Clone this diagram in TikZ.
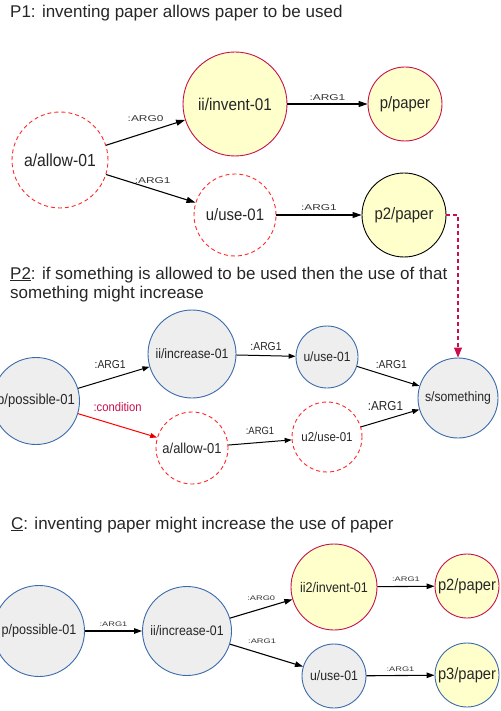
\documentclass[tikz,border=0pt]{standalone}
\usepackage{fontspec}
\setmainfont{Liberation Sans}
\newfontfamily\nodefont[FakeStretch=0.9]{Liberation Sans}
\newfontfamily\widefont[FakeStretch=1.4]{Liberation Sans}
\usetikzlibrary{arrows.meta}

\definecolor{amryellow}{HTML}{FFFFCC}
\definecolor{amrgray}{HTML}{EEEEEE}
\definecolor{amrblue}{HTML}{3A6BAA}
\definecolor{amrdash}{HTML}{FF2A2A}
\definecolor{amrred}{HTML}{C8104E}

\newcommand{\fsz}[1]{\fontsize{#1}{#1}\selectfont}

\begin{document}
\begin{tikzpicture}[x=1pt,y=-1pt,
	concept/.style={circle,inner sep=0pt,line width=0.9pt,text=black!85},
	yellowred/.style={concept,draw=amrred,fill=amryellow},
	yellowblack/.style={concept,draw=black,fill=amryellow},
	yellowblue/.style={concept,draw=amrblue,fill=amryellow},
	grayblue/.style={concept,draw=amrblue,fill=amrgray},
	dashedred/.style={concept,draw=amrdash,fill=white,dash pattern=on 4pt off 3pt},
	edgeA/.style={-{Triangle[length=9pt,width=6pt]},line width=1.1pt},
	edgeB/.style={-{Triangle[length=7pt,width=5pt]},line width=1pt},
	edgeC/.style={-{Triangle[length=8pt,width=5.5pt]},line width=1.1pt},
	lblwide/.style={font={\widefont\fsz{8.5}},inner sep=1pt,text=black!80},
	lblsmall/.style={font={\widefont\fsz{6.6}},inner sep=1pt,text=black!80},
	lblnarrow/.style={font={\nodefont\fsz{11.5}},inner sep=1pt,text=black!85},
	title/.style={anchor=base west,inner sep=0pt,font=\fsz{17},text=black!85}
	]
	
	\useasboundingbox (0,0) rectangle (500,711);
	
	% P1
	\begin{scope}
		\node[title] (titleP1) at (10,17.5) {P1: inventing paper allows paper to be used};
		
		% Nodes
		\node[dashedred,minimum size=96,font={\nodefont\fsz{17.5}}] (allowA) at (60,160) {a/allow-01};
		\node[yellowred,minimum size=104,font={\nodefont\fsz{17}}] (inventA) at (235,104) {ii/invent-01};
		\node[yellowred,minimum size=74,font={\nodefont\fsz{16.5}}] (paperA) at (405,104) {p/paper};
		\node[dashedred,minimum size=82,font={\nodefont\fsz{16.6}}] (useA) at (235,215) {u/use-01};
		\node[yellowblack,minimum size=84,font={\nodefont\fsz{16.6}}] (paperB) at (404,215) {p2/paper};
		
		% Edges
		\draw[edgeA] (allowA) -- node[lblwide,above=9pt] {:ARG0} (inventA);
		\draw[edgeA] (inventA) -- node[lblwide,above=2pt] {:ARG1} (paperA);
		\draw[edgeA] (allowA) -- node[lblwide,above=4pt,pos=0.52] {:ARG1} (useA);
		\draw[edgeA] (useA) -- node[lblwide,above=3pt] {:ARG1} (paperB);
	\end{scope}
	
	% P2
	\begin{scope}
		\node[title] (titleP2) at (10,279) {\underline{P2}: if something is allowed to be used then the use of that};
		\node[title] (titleP2b) at (10,298) {something might increase};
		
		% Nodes
		\node[grayblue,minimum size=87,font={\nodefont\fsz{14.5}}] (possibleP) at (36,401) {p/possible-01};
		\node[grayblue,minimum size=88,font={\nodefont\fsz{13.6}}] (increaseP) at (192,354) {ii/increase-01};
		\node[grayblue,minimum size=62,font={\nodefont\fsz{13.4}}] (useP) at (327,357) {u/use-01};
		\node[grayblue,minimum size=80,font={\nodefont\fsz{13.6}}] (somethingP) at (458,398) {s/something};
		\node[dashedred,minimum size=72,font={\nodefont\fsz{14.4}}] (allowP) at (192,448) {a/allow-01};
		\node[dashedred,minimum size=70,font={\nodefont\fsz{12.8}}] (usePb) at (327,437) {u2/use-01};
		
		% Edges
		\draw[edgeB] (possibleP) -- node[lblnarrow,above=9pt,pos=0.45] {:ARG1} (increaseP);
		\draw[edgeB] (increaseP) -- node[lblnarrow,above=4pt] {:ARG1} (useP);
		\draw[edgeB] (useP) -- node[lblnarrow,above=7pt,pos=0.55] {:ARG1} (somethingP);
		\draw[edgeB,red,-{Triangle[length=7pt,width=5pt,fill=red!55!black]}] (possibleP) -- node[font={\nodefont\fsz{12.5}},text=amrred,inner sep=1pt,above=12pt] {:condition} (allowP);
		\draw[edgeB] (allowP) -- node[lblnarrow,above=6pt,font={\nodefont\fsz{10.5}}] {:ARG1} (usePb);
		\draw[edgeB] (usePb) -- node[lblnarrow,above=7pt,pos=0.42,font={\nodefont\fsz{13}}] {:ARG1} (somethingP);
	\end{scope}
	
	% link between P1 and P2
	\draw[amrred,line width=1.1pt,dash pattern=on 4pt off 3pt,-{Triangle[length=10pt,width=8pt]}] (paperB.east) -| (somethingP.north);
	
	% C
	\begin{scope}
		\node[title] (titleC) at (11,529) {\underline{C}: inventing paper might increase the use of paper};
		
		% Nodes
		\node[grayblue,minimum size=91,font={\nodefont\fsz{14}}] (possibleC) at (39,631) {p/possible-01};
		\node[grayblue,minimum size=89,font={\nodefont\fsz{13.7}}] (increaseC) at (187,631) {ii/increase-01};
		\node[yellowred,minimum size=86,font={\nodefont\fsz{14}}] (inventC) at (334,587) {ii2/invent-01};
		\node[yellowred,minimum size=64,font={\nodefont\fsz{16.3}}] (paperC) at (467,586) {p2/paper};
		\node[grayblue,minimum size=64,font={\nodefont\fsz{13.7}}] (useC) at (334,676) {u/use-01};
		\node[yellowblue,minimum size=64,font={\nodefont\fsz{16.3}}] (paperCb) at (467,675) {p3/paper};
		
		% Edges
		\draw[edgeC] (possibleC) -- node[lblsmall,above=3pt] {:ARG1} (increaseC);
		\draw[edgeC] (increaseC) -- node[lblsmall,above=7pt] {:ARG0} (inventC);
		\draw[edgeC] (increaseC) -- node[lblsmall,above=9pt,pos=0.44] {:ARG1} (useC);
		\draw[edgeC] (inventC) -- node[lblsmall,above=3pt] {:ARG1} (paperC);
		\draw[edgeC] (useC) -- node[lblsmall,above=2.5pt] {:ARG1} (paperCb);
	\end{scope}
	
\end{tikzpicture}
\end{document}
